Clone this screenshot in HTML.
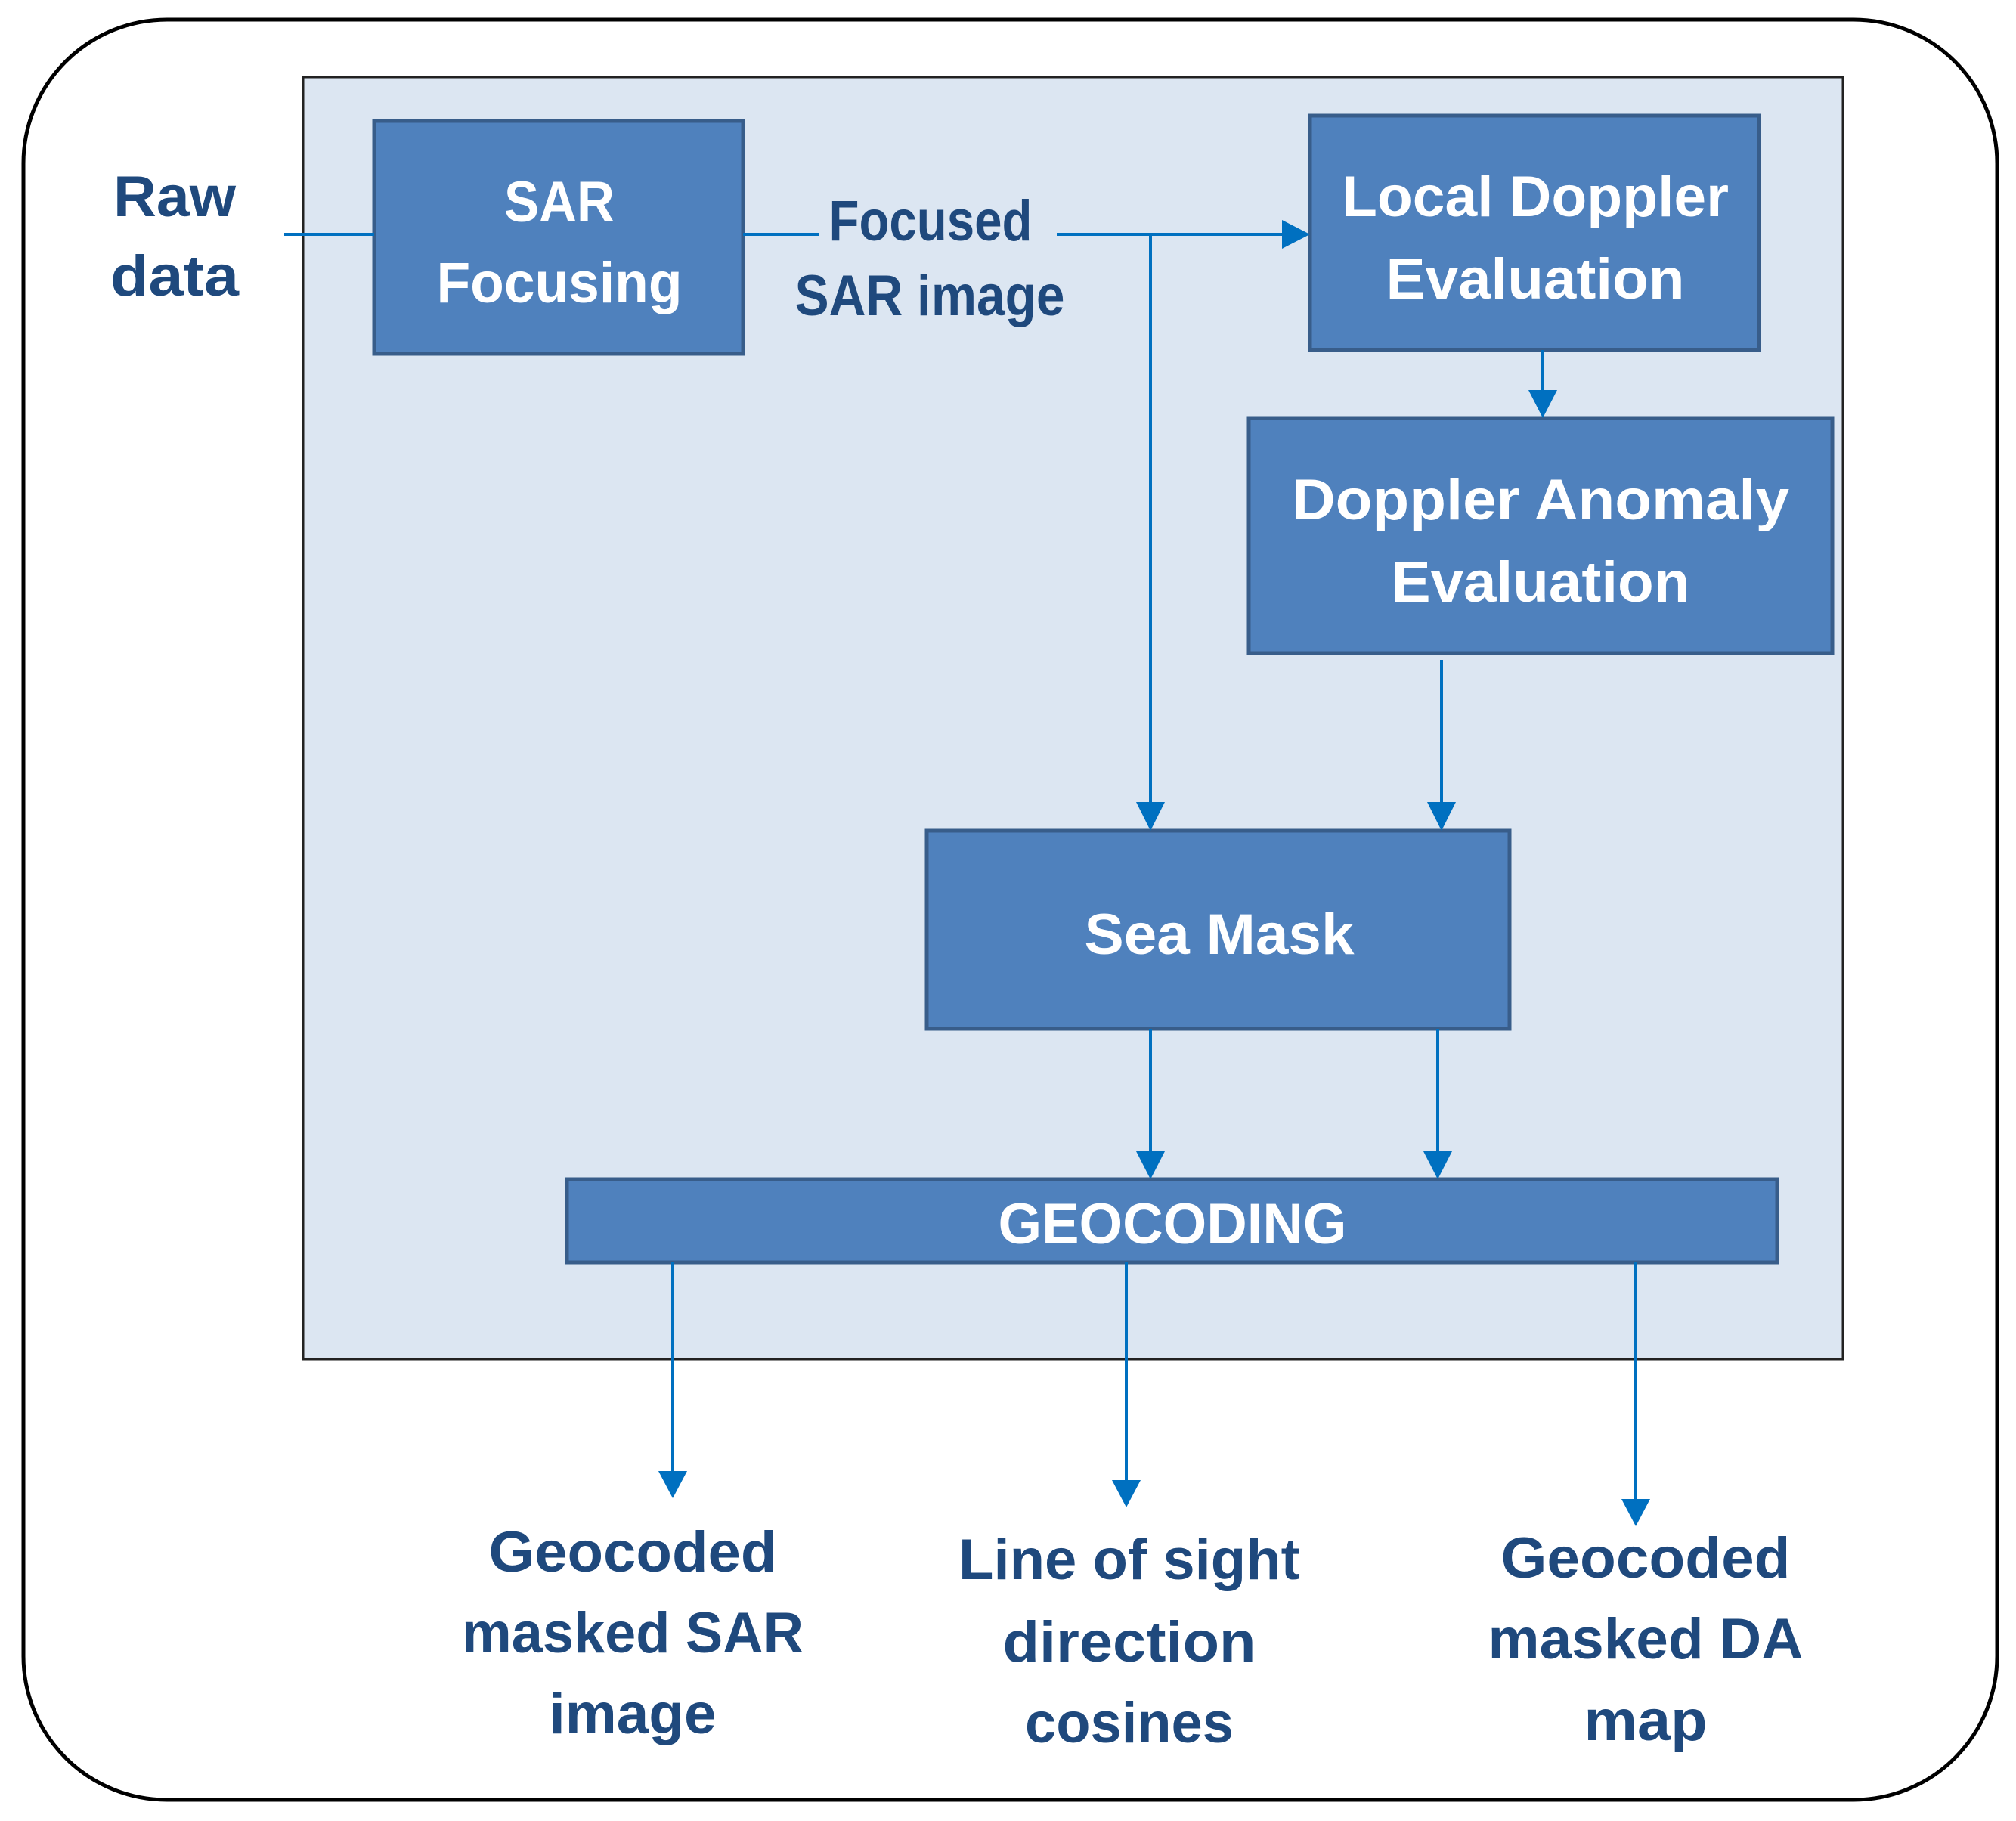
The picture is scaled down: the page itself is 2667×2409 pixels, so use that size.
<!DOCTYPE html>
<html><head><meta charset="utf-8"><style>html,body{margin:0;padding:0;background:#fff}svg{display:block}</style></head><body>
<svg width="2667" height="2409" viewBox="0 0 2667 2409" xmlns="http://www.w3.org/2000/svg">
<rect x="31" y="26" width="2611" height="2355" rx="190" fill="#fff" stroke="#000" stroke-width="5"/>
<rect x="401" y="102" width="2037" height="1696" fill="#dce6f2" stroke="#222" stroke-width="3"/>
<g fill="#4f81bd" stroke="#385d8a" stroke-width="5">
<rect x="495" y="160" width="488" height="308"/>
<rect x="1733" y="153" width="594" height="310"/>
<rect x="1652" y="553" width="772" height="311"/>
<rect x="1226" y="1099" width="771" height="262"/>
<rect x="750" y="1560" width="1601" height="110"/>
</g>
<g stroke="#0070c0" stroke-width="4" fill="none">
<line x1="376" y1="310" x2="495" y2="310"/>
<line x1="983" y1="310" x2="1084" y2="310"/>
<line x1="1398" y1="310" x2="1700" y2="310"/>
<line x1="1522" y1="310" x2="1522" y2="1065"/>
<line x1="2041" y1="463" x2="2041" y2="520"/>
<line x1="1907" y1="873" x2="1907" y2="1065"/>
<line x1="1522" y1="1361" x2="1522" y2="1527"/>
<line x1="1902" y1="1361" x2="1902" y2="1527"/>
<line x1="890" y1="1670" x2="890" y2="1950"/>
<line x1="1490" y1="1670" x2="1490" y2="1962"/>
<line x1="2164" y1="1670" x2="2164" y2="1987"/>
</g>
<g fill="#0070c0">
<polygon points="1733,310 1696,291 1696,329"/>
<polygon points="1522,1099 1503,1061 1541,1061"/>
<polygon points="2041,553 2022,516 2060,516"/>
<polygon points="1907,1099 1888,1061 1926,1061"/>
<polygon points="1522,1560 1503,1523 1541,1523"/>
<polygon points="1902,1560 1883,1523 1921,1523"/>
<polygon points="890,1982 871,1946 909,1946"/>
<polygon points="1490,1994 1471,1958 1509,1958"/>
<polygon points="2164,2019 2145,1983 2183,1983"/>
</g>
<g font-family="Liberation Sans, sans-serif" font-weight="bold" font-size="76" text-anchor="middle" fill="#fff" lengthAdjust="spacingAndGlyphs">
<text x="740" y="293" textLength="146" lengthAdjust="spacingAndGlyphs">SAR</text>
<text x="740" y="400" textLength="325" lengthAdjust="spacingAndGlyphs">Focusing</text>
<text x="2031" y="286" textLength="512" lengthAdjust="spacingAndGlyphs">Local Doppler</text>
<text x="2031" y="395" textLength="395" lengthAdjust="spacingAndGlyphs">Evaluation</text>
<text x="2038" y="687" textLength="658" lengthAdjust="spacingAndGlyphs">Doppler Anomaly</text>
<text x="2038" y="796" textLength="395" lengthAdjust="spacingAndGlyphs">Evaluation</text>
<text x="1613" y="1262" textLength="357" lengthAdjust="spacingAndGlyphs">Sea Mask</text>
<text x="1551" y="1645" textLength="461" lengthAdjust="spacingAndGlyphs">GEOCODING</text>
</g>
<g font-family="Liberation Sans, sans-serif" font-weight="bold" font-size="76" text-anchor="middle" fill="#1f497d">
<text x="231" y="286" textLength="162" lengthAdjust="spacingAndGlyphs">Raw</text>
<text x="231" y="391" textLength="170" lengthAdjust="spacingAndGlyphs">data</text>
<text x="1231" y="318" textLength="269" lengthAdjust="spacingAndGlyphs">Focused</text>
<text x="1230" y="417" textLength="357" lengthAdjust="spacingAndGlyphs">SAR image</text>
<text x="837" y="2079" textLength="381" lengthAdjust="spacingAndGlyphs">Geocoded</text>
<text x="837" y="2186" textLength="452" lengthAdjust="spacingAndGlyphs">masked SAR</text>
<text x="837" y="2293" textLength="221" lengthAdjust="spacingAndGlyphs">image</text>
<text x="1494" y="2089" textLength="452" lengthAdjust="spacingAndGlyphs">Line of sight</text>
<text x="1494" y="2198" textLength="335" lengthAdjust="spacingAndGlyphs">direction</text>
<text x="1494" y="2305" textLength="276" lengthAdjust="spacingAndGlyphs">cosines</text>
<text x="2177" y="2087" textLength="383" lengthAdjust="spacingAndGlyphs">Geocoded</text>
<text x="2177" y="2194" textLength="417" lengthAdjust="spacingAndGlyphs">masked DA</text>
<text x="2177" y="2302" textLength="163" lengthAdjust="spacingAndGlyphs">map</text>
</g>
</svg>
</body></html>
